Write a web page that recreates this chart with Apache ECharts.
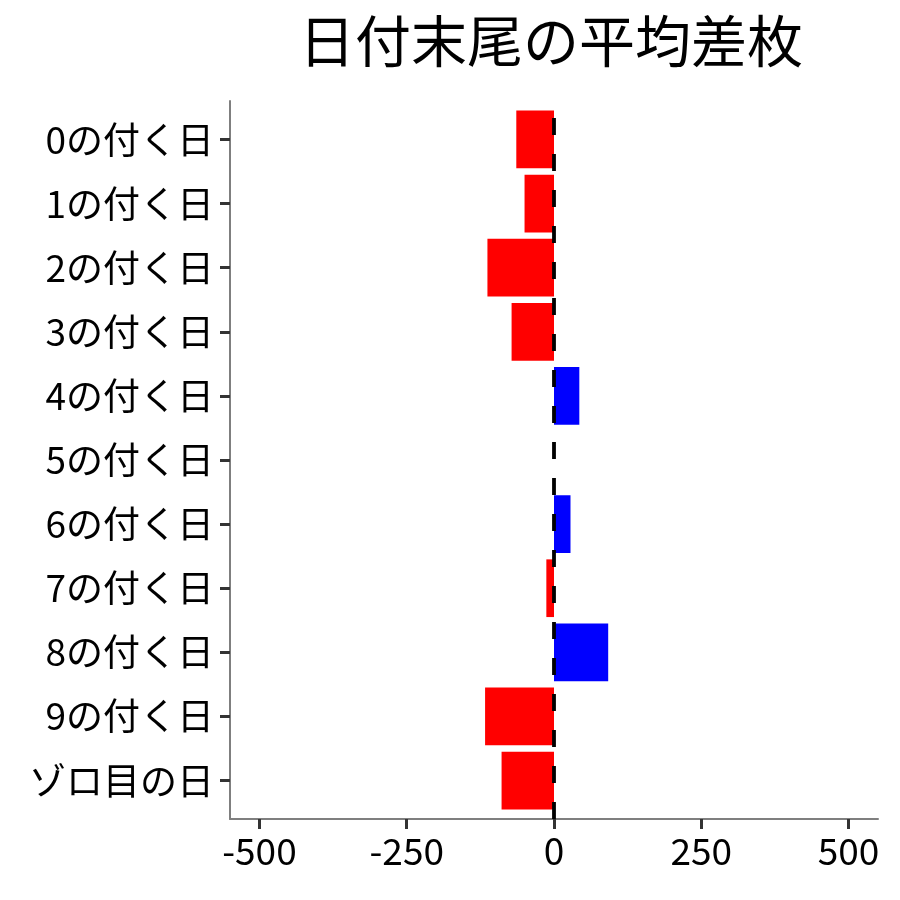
<!DOCTYPE html>
<html><head><meta charset="utf-8">
<script src="https://cdn.jsdelivr.net/npm/echarts@6/dist/echarts.min.js"></script>
<style>html,body{margin:0;padding:0;background:#fff}#c{width:900px;height:900px}</style>
</head><body><div id="c"></div>
<script>
const titleText = '日付末尾の平均差枚';
const categories = ['0の付く日','1の付く日','2の付く日','3の付く日','4の付く日','5の付く日','6の付く日','7の付く日','8の付く日','9の付く日','ゾロ目の日'];
const values = [-64, -50, -113, -72, 43, 0, 28, -13, 92, -117, -89];
const xTicks = [-500, -250, 0, 250, 500];
const xMin = -550, xMax = 550;

const font = '"Noto Sans CJK JP", "Noto Sans", sans-serif';
const chart = echarts.init(document.getElementById('c'), null, {renderer: 'canvas'});
const panelTop = 101, panelBottom = 819, panelLeft = 230, panelRight = 878;
const unit = (panelBottom - panelTop) / (categories.length - 1 + 1.2);
const pad = 0.6 * unit - 0.5 * unit;

chart.setOption({
  animation: false,
  backgroundColor: '#fff',
  title: {
    text: titleText, left: 546, top: 8, textAlign: 'center',
    textStyle: {fontFamily: font, fontSize: 56, fontWeight: 'normal', color: '#000'}
  },
  grid: [
    {left: panelLeft, width: panelRight - panelLeft, top: panelTop + pad, height: (panelBottom - panelTop) - 2 * pad},
    {left: panelLeft, width: panelRight - panelLeft, top: panelTop, height: panelBottom - panelTop}
  ],
  xAxis: [
    {gridIndex: 0, type: 'value', min: xMin, max: xMax, show: false},
    {gridIndex: 1, type: 'value', min: xMin, max: xMax,
     axisLine: {show: true, onZero: false, lineStyle: {color: '#7f7f7f', width: 2}},
     axisTick: {show: true, customValues: xTicks, length: 10, lineStyle: {color: '#333', width: 3}},
     axisLabel: {customValues: xTicks, fontFamily: font, fontSize: 37, color: '#000', margin: 13},
     splitLine: {show: false}}
  ],
  yAxis: [
    {gridIndex: 0, type: 'category', data: categories, inverse: true,
     axisLine: {show: false, onZero: false},
     axisTick: {show: true, alignWithLabel: true, length: 10, lineStyle: {color: '#333', width: 3}},
     axisLabel: {fontFamily: font, fontSize: 37, color: '#000', margin: 16},
     splitLine: {show: false}},
    {gridIndex: 1, type: 'value', min: 0, max: 1,
     axisLine: {show: true, onZero: false, lineStyle: {color: '#7f7f7f', width: 2}},
     axisTick: {show: false}, axisLabel: {show: false}, splitLine: {show: false}}
  ],
  series: [
    {type: 'bar', xAxisIndex: 0, yAxisIndex: 0, barWidth: '90%',
     data: values.map(v => ({value: v, itemStyle: {color: v < 0 ? '#ff0000' : '#0000ff'}})),
     z: 2},
    {type: 'line', xAxisIndex: 1, yAxisIndex: 1, data: [], z: 5,
     markLine: {silent: true, symbol: 'none', label: {show: false},
       lineStyle: {color: '#000', width: 3.8, type: [17, 19]},
       data: [{xAxis: 0}]}}
  ]
});
</script></body></html>
